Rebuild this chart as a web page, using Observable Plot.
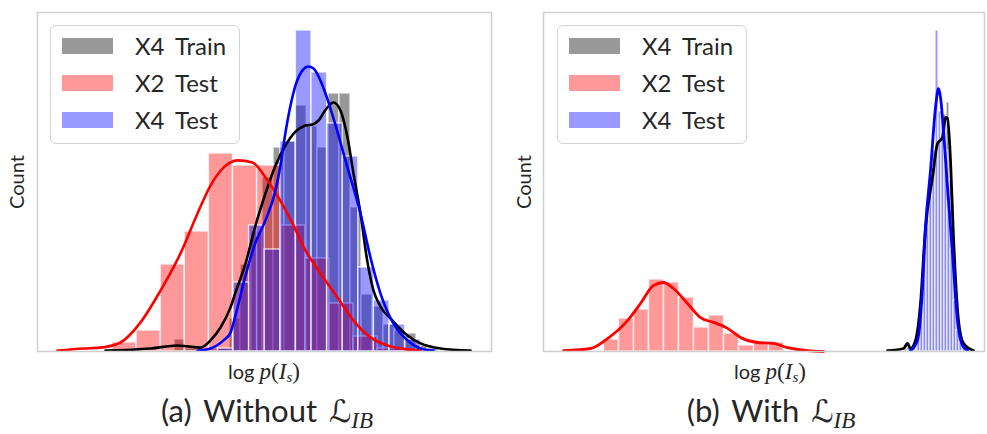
<!DOCTYPE html>
<html><head><meta charset="utf-8">
<script src="https://cdn.jsdelivr.net/npm/d3@7"></script>
<script src="https://cdn.jsdelivr.net/npm/@observablehq/plot@0.6"></script>
<style>
body{margin:0;background:#fff;}
#wrap{position:relative;width:987px;height:434px;font-family:Lato,"DejaVu Sans",sans-serif;color:#262626;overflow:hidden;}
.panel{position:absolute;top:0;}
.legend{position:absolute;top:25px;width:190px;height:119px;border:1.5px solid #d4d4d4;border-radius:6px;background:rgba(255,255,255,0.8);box-sizing:border-box;}
.sw{position:absolute;width:51px;height:16px;}
.lt{position:absolute;font-size:24px;line-height:24px;white-space:nowrap;word-spacing:5px;}
.ylab{position:absolute;font-size:20px;transform:translate(-50%,-50%) rotate(-90deg);white-space:nowrap;}
.xlab{position:absolute;font-size:20px;transform:translate(-50%,-50%);white-space:nowrap;}
.m{font-family:"Liberation Serif","DejaVu Serif",serif;font-size:23px;}
.m sub{font-size:15px;vertical-align:-3px;}
.cap{position:absolute;font-size:31px;transform:translate(-50%,-50%);white-space:nowrap;word-spacing:4px;}
.cal{font-family:"DejaVu Serif","DejaVu Sans",serif;font-style:italic;}
.cap sub{font-family:"Liberation Serif",serif;font-style:italic;font-size:23px;vertical-align:-6px;}
</style></head>
<body>
<div id="wrap"></div>
<script>
// ---------- Panel (a): without L_IB ----------
const trainA_edges = [13.7,14.8,15.9,17.0,18.1,19.2,20.3,21.4,22.5,23.6,24.7,25.8,26.9,28.0,29.1,30.2,31.3,32.4,33.5,34.6,35.7,36.8,37.9,39.0,40.1];
const trainA_counts = [4,1,0,1,1,11,29,40,58,68,70,82,75,68,86,86,48,19,15,9,7,6,2,1];
const x2A_edges = [7.5,9.91,12.32,14.73,17.14,19.55,21.96,24.37,26.78,29.19,31.6,34.01,36.42];
const x2A_counts = [3,7,29,40,66,62,62,42,31,16,5,1];
const x4A_edges = [18.04,19.6,21.16,22.72,24.28,25.84,27.4,28.96,30.52,32.08,33.64,35.2,36.76,38.32];
const x4A_counts = [1,23,42,34,70,107,93,76,65,28,17,9,4];
const trainA_kde_x = [6.8,11.3,14.0,15.0,16.3,17.3,18.3,19.3,19.8,20.8,21.8,22.8,23.8,24.8,25.8,26.8,27.5,28.1,28.9,29.6,30.3,31.0,31.6,32.3,33.0,33.6,34.3,35.5,37.0,38.3,40.3,43.3];
const trainA_kde_y = [0.3,1,2,1.7,1.3,3.7,8,14.7,19.7,29.3,42,52.7,62,68.7,73.3,75.3,75.7,77,81,83,80.3,71.3,59.3,46,29.7,20.3,15,10.3,5.3,2.7,1,0.3];
const x2A_kde_x = [2.0,4.6,6.3,8.3,10.3,12.3,14.3,16.0,17.3,18.6,20.0,21.5,22.8,24.1,25.5,26.8,28.1,30.0,31.6,33.3,35.0,37.0,38.3];
const x2A_kde_y = [0.3,1,1.3,3,9.7,20.3,32.7,46,55.3,61.3,63.7,63,58,51.3,42.7,33.7,27,18,10.3,4.7,2,0.7,0.3];
const x4A_kde_x = [16.0,17.3,18.6,19.3,19.8,20.8,21.8,22.8,23.8,24.3,24.8,25.3,25.8,26.5,27.1,27.6,28.1,28.8,29.6,31.0,32.3,33.3,34.3,35.6,37.0,38.3,39.6];
const x4A_kde_y = [0.3,1,3.7,6.3,12,25.3,36.3,43.7,53.7,62,73,82,88.7,93.7,95,94.3,91.7,86,77.7,61.3,46,31.3,19.3,9.3,3.7,1,0.3];

// ---------- Panel (b): with L_IB ----------
const trainB_edges = [36.1,36.4,36.7,37.0,37.3,37.6,37.9,38.2,38.5,38.8,39.1,39.4,39.7,40.0,40.3,40.6,40.9,41.2,41.5,41.8,42.1,42.4];
const trainB_counts = [1,2,0,2,7,17,29,39,49,59,67,70,72,79,83,57,34,17,7,3,1];
const x2B_edges = [6.05,7.55,9.05,10.55,12.05,13.55,15.05,16.55,18.05,19.55,21.05,22.55,24.05];
const x2B_counts = [4,11,14,24,23,18,8,12,6,2,3,3];
const x4B_edges = [37.4,37.7,38.0,38.3,38.6,38.9,39.2,39.5,39.8,40.1,40.4,40.7,41.0,41.3,41.6,41.9,42.2];
const x4B_counts = [5,17,34,44,57,67,107,80,77,67,50,34,17,7,3,1];
const trainB_kde_x = [34.4,36.0,36.4,36.7,37.2,37.7,38.2,38.9,39.4,39.9,40.2,40.4,40.7,41.0,41.5,42.0,43.0];
const trainB_kde_y = [0.3,1,2.7,1,3.7,16,41.3,58,69.3,71.3,78,77.7,63.7,38,10.3,2.7,0.3];
const x2B_kde_x = [2.0,4.7,6.4,8.4,9.7,11.0,12.0,13.0,14.4,15.7,17.0,18.4,19.7,21.4,23.0,24.4,26.4,28.0];
const x2B_kde_y = [0.3,1,4.3,10.3,16,22,23,21,16,11.3,9.7,7.7,4.7,3,2.7,1.3,0.3,0];
const x4B_kde_x = [36.7,37.4,37.9,38.2,38.7,39.2,39.5,39.7,40.0,40.4,40.9,41.4,41.9,42.4];
const x4B_kde_y = [0.3,3.7,21.3,41.3,60.3,81.3,87.7,84.7,73.7,54.7,32.7,10.3,2,0.3];

const seriesNames = ["X4 Train","X2 Test","X4 Test"];
const seriesColors = ["#000000","#ff0000","#0000ff"];
const legendSwatch = ["rgba(0,0,0,0.4)","rgba(255,0,0,0.4)","rgba(0,0,255,0.4)"];

const bins = (edges, counts) => counts.map((c,i)=>({x1:edges[i], x2:edges[i+1], y1:0, y2:c}));
const pts = (xs, ys) => xs.map((x,i)=>({x, y:ys[i]}));

function makePanel({width, marginLeft, marginRight, xDomain, hists, kdes, lw}){
  const marks = [];
  hists.forEach((h,i)=>{
    marks.push(Plot.rect(bins(h[0],h[1]), {x1:"x1", x2:"x2", y1:"y1", y2:"y2", fill:seriesColors[i], fillOpacity:0.4, stroke:"white", strokeWidth:1.4, strokeOpacity:0.75}));
  });
  kdes.forEach((k,i)=>{
    marks.push(Plot.line(pts(k[0],k[1]), {x:"x", y:"y", stroke:seriesColors[i], strokeWidth:lw, curve:"monotone-x"}));
  });
  marks.push(Plot.frame({stroke:"#cfcfcf", strokeWidth:1.5}));
  return Plot.plot({
    width, height:355, marginTop:12, marginBottom:4, marginLeft, marginRight,
    x:{domain:xDomain, axis:null}, y:{domain:[0,113], axis:null},
    style:{background:"transparent", overflow:"visible"},
    marks
  });
}

const wrap = document.getElementById("wrap");
function place(el, left){ el.classList.add("panel"); el.style.left = left+"px"; wrap.appendChild(el); }

place(makePanel({width:495, marginLeft:37, marginRight:4, xDomain:[0,45.4],
  hists:[[trainA_edges,trainA_counts],[x2A_edges,x2A_counts],[x4A_edges,x4A_counts]],
  kdes:[[trainA_kde_x,trainA_kde_y],[x2A_kde_x,x2A_kde_y],[x4A_kde_x,x4A_kde_y]], lw:2.6}), 0);
place(makePanel({width:487, marginLeft:43, marginRight:3, xDomain:[0,44.1],
  hists:[[trainB_edges,trainB_counts],[x2B_edges,x2B_counts],[x4B_edges,x4B_counts]],
  kdes:[[trainB_kde_x,trainB_kde_y],[x2B_kde_x,x2B_kde_y],[x4B_kde_x,x4B_kde_y]], lw:2.8}), 500);

function legend(left){
  const d = document.createElement("div");
  d.className = "legend"; d.style.left = left+"px";
  seriesNames.forEach((n,i)=>{
    const s = document.createElement("div"); s.className="sw";
    s.style.left="11px"; s.style.top=(12+37*i)+"px"; s.style.background=legendSwatch[i];
    const t = document.createElement("div"); t.className="lt";
    t.style.left="84px"; t.style.top=(8+37*i)+"px"; t.textContent=n;
    d.appendChild(s); d.appendChild(t);
  });
  wrap.appendChild(d);
}
legend(50); legend(557);

function label(cls, html, x, y){
  const d=document.createElement("div"); d.className=cls; d.innerHTML=html;
  d.style.left=x+"px"; d.style.top=y+"px"; wrap.appendChild(d);
}
const xl = 'log <span class="m"><i>p</i>(<i>I<sub>s</sub></i>)</span>';
label("ylab","Count",16,182); label("ylab","Count",523,182);
label("xlab",xl,264,372); label("xlab",xl,770,372);
label("cap",'(a) Without <span class="cal">ℒ</span><sub>IB</sub>',267,412);
label("cap",'(b) With <span class="cal">ℒ</span><sub>IB</sub>',771,412);
</script>
</body></html>
